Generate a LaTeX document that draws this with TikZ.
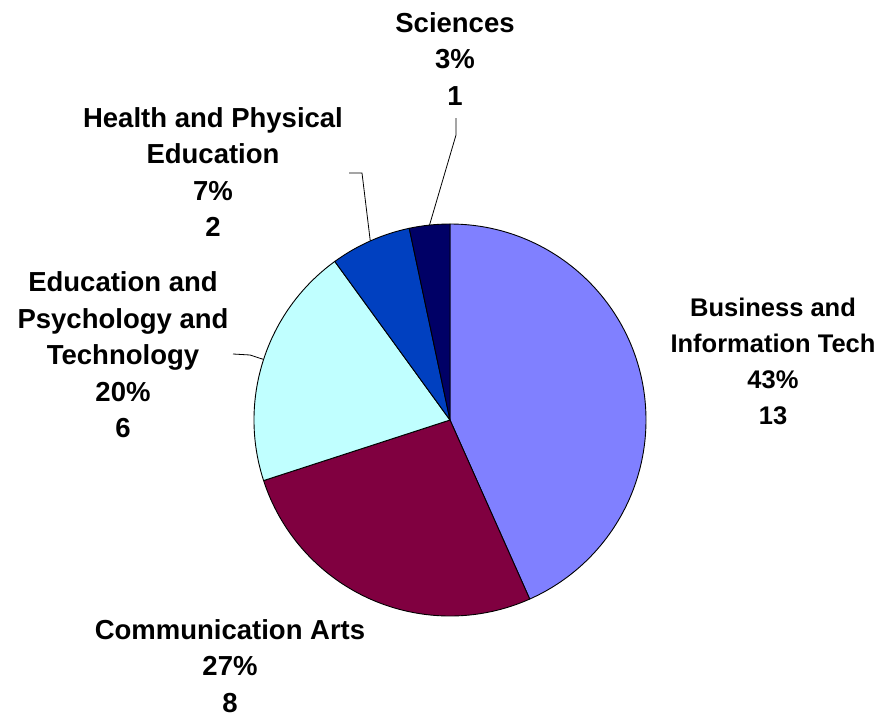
\documentclass[tikz,border=0pt]{standalone}
\usepackage{fontspec}
\setmainfont{Liberation Sans}
\definecolor{bizc}{HTML}{8080FF}
\definecolor{commc}{HTML}{800040}
\definecolor{educ}{HTML}{C0FFFF}
\definecolor{healthc}{HTML}{0040C0}
\definecolor{scic}{HTML}{000066}
\begin{document}
\begin{tikzpicture}[x=1pt,y=-1pt,
  lbl/.style={font=\fontsize{27.5}{36.5}\selectfont\bfseries, align=center, inner sep=0pt, text=black},
  lblsmall/.style={lbl, font=\fontsize{25.5}{36}\selectfont\bfseries},
  slice/.style={draw=black, line width=0.9pt, line join=round},
  leader/.style={draw=black, line width=0.8pt}]
\useasboundingbox (0,0) rectangle (881,717);
\coordinate (c) at (450,420);
% slices
\filldraw[slice, fill=bizc] (c) -- ++(90:196pt) arc[start angle=90, end angle=-66, radius=196pt] -- cycle;
\filldraw[slice, fill=commc] (c) -- ++(-66:196pt) arc[start angle=-66, end angle=-162, radius=196pt] -- cycle;
\filldraw[slice, fill=educ] (c) -- ++(-162:196pt) arc[start angle=-162, end angle=-234, radius=196pt] -- cycle;
\filldraw[slice, fill=healthc] (c) -- ++(126:196pt) arc[start angle=126, end angle=102, radius=196pt] -- cycle;
\filldraw[slice, fill=scic] (c) -- ++(102:196pt) arc[start angle=102, end angle=90, radius=196pt] -- cycle;
% labels
\node[lbl] (sci) at (455,59) {Sciences\\3\%\\1};
\node[lbl] (hpe) at (213,172) {Health and Physical\\Education\\7\%\\2};
\node[lbl] (edu) at (123,355) {Education and\\Psychology and\\Technology\\20\%\\6};
\node[lblsmall] (biz) at (773,361) {Business and\\Information Tech\\43\%\\13};
\node[lbl] (com) at (230,666) {Communication Arts\\27\%\\8};
% leader points
\path (c) ++(96:196pt) coordinate (sciP);
\coordinate (sciA) at (456,135);
\coordinate (sciB) at (456,118);
\path (c) ++(114:196pt) coordinate (hpeP);
\coordinate (hpeA) at (362,173);
\coordinate (hpeB) at (349,173);
\path (c) ++(162:196pt) coordinate (eduP);
\coordinate (eduA) at (250,355);
\coordinate (eduB) at (233,354);
\draw[leader] (sciP) -- (sciA) -- (sciB);
\draw[leader] (hpeP) -- (hpeA) -- (hpeB);
\draw[leader] (eduP) -- (eduA) -- (eduB);
\end{tikzpicture}
\end{document}
